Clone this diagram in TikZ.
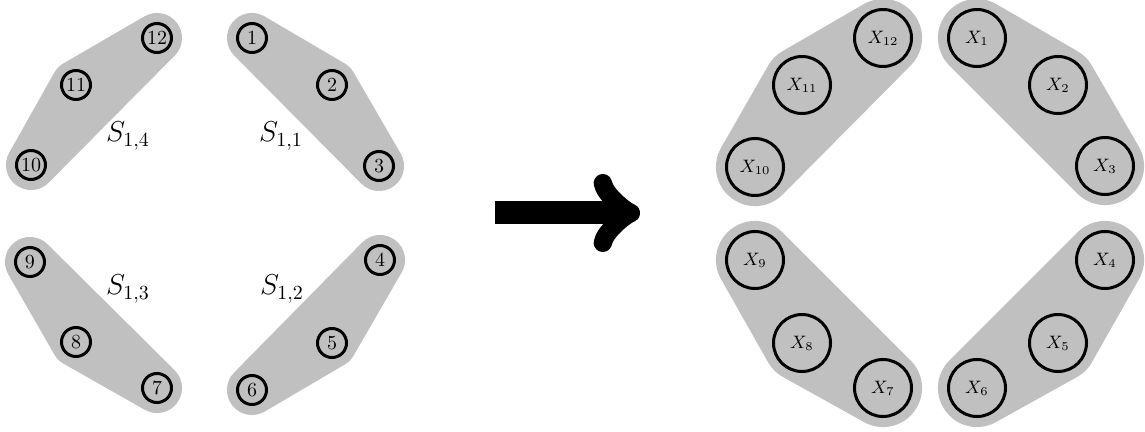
\documentclass[tikz,border=0pt]{standalone}
\usetikzlibrary{backgrounds}
\definecolor{blobgray}{RGB}{192,192,192}
\begin{document}
\begin{tikzpicture}[x=0.5pt,y=-0.5pt,
  sn/.style={circle,draw,line width=1.5pt,minimum size=14.5pt,inner sep=0pt,font=\normalsize},
  xn/.style={circle,draw,line width=1.5pt,minimum size=28.5pt,inner sep=0pt,font=\small},
  sblob/.style={draw=blobgray,fill=blobgray,line width=25pt,line join=round},
  xblob/.style={draw=blobgray,fill=blobgray,line width=39pt,line join=round},
  slab/.style={font=\Large}]
\useasboundingbox (0,0) rectangle (1145,432);
% left nodes
\node[sn] (n1) at (252,38) {1};
\node[sn] (n2) at (332,85) {2};
\node[sn] (n3) at (379,166) {3};
\node[sn] (n4) at (380,260) {4};
\node[sn] (n5) at (332,343) {5};
\node[sn] (n6) at (252,390) {6};
\node[sn] (n7) at (157,388) {7};
\node[sn] (n8) at (76,342) {8};
\node[sn] (n9) at (30,262) {9};
\node[sn] (n10) at (31,165) {10};
\node[sn] (n11) at (76,85) {11};
\node[sn] (n12) at (157,38) {12};
\node[slab] (s11) at (281,136) {$S_{1,1}$};
\node[slab] (s12) at (282,289) {$S_{1,2}$};
\node[slab] (s13) at (128,289) {$S_{1,3}$};
\node[slab] (s14) at (128,136) {$S_{1,4}$};
% right nodes
\node[xn] (x1) at (977,38) {$X_{1}$};
\node[xn] (x2) at (1058,85) {$X_{2}$};
\node[xn] (x3) at (1105,166) {$X_{3}$};
\node[xn] (x4) at (1105,260) {$X_{4}$};
\node[xn] (x5) at (1058,343) {$X_{5}$};
\node[xn] (x6) at (977,388) {$X_{6}$};
\node[xn] (x7) at (883,388) {$X_{7}$};
\node[xn] (x8) at (802,343) {$X_{8}$};
\node[xn] (x9) at (755,260) {$X_{9}$};
\node[xn] (x10) at (755,167) {$X_{10}$};
\node[xn] (x11) at (802,85) {$X_{11}$};
\node[xn] (x12) at (883,38) {$X_{12}$};
% arrow
\coordinate (a0) at (495,213);
\coordinate (a1) at (640,213);
\draw[line width=11.5pt,->] (a0) -- (a1);
\begin{scope}[on background layer]
\draw[sblob] (n1.center) -- (n2.center) -- (n3.center) -- cycle;
\draw[sblob] (n4.center) -- (n5.center) -- (n6.center) -- cycle;
\draw[sblob] (n7.center) -- (n8.center) -- (n9.center) -- cycle;
\draw[sblob] (n10.center) -- (n11.center) -- (n12.center) -- cycle;
\draw[xblob] (x1.center) -- (x2.center) -- (x3.center) -- cycle;
\draw[xblob] (x4.center) -- (x5.center) -- (x6.center) -- cycle;
\draw[xblob] (x7.center) -- (x8.center) -- (x9.center) -- cycle;
\draw[xblob] (x10.center) -- (x11.center) -- (x12.center) -- cycle;
\end{scope}
\end{tikzpicture}
\end{document}
